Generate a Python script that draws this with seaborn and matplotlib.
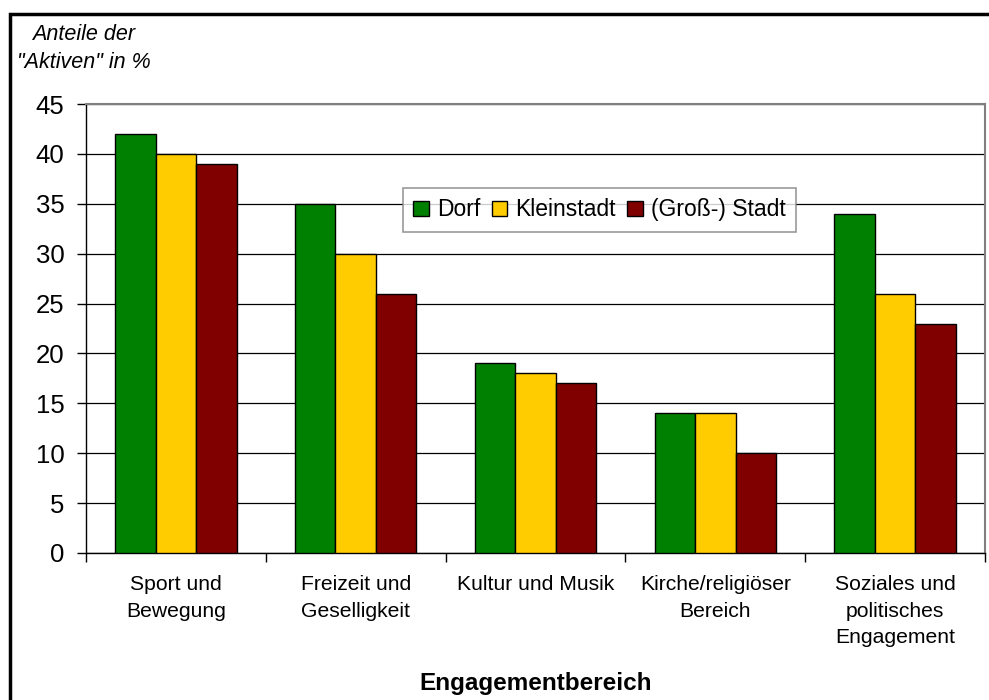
import seaborn as sns
import matplotlib.pyplot as plt
import pandas as pd
from matplotlib.patches import Rectangle

# data
categories = ["Sport und\nBewegung", "Freizeit und\nGeselligkeit", "Kultur und Musik",
              "Kirche/religiöser\nBereich", "Soziales und\npolitisches\nEngagement"]
series = ["Dorf", "Kleinstadt", "(Groß-) Stadt"]
dorf = [42, 35, 19, 14, 34]
kleinstadt = [40, 30, 18, 14, 26]
stadt = [39, 26, 17, 10, 23]
colors = ["#008000", "#FFCC00", "#800000"]

df = pd.DataFrame({
    "Bereich": categories * 3,
    "Ort": [s for s in series for _ in categories],
    "Anteil": dorf + kleinstadt + stadt,
})

sns.set_style("white")
plt.rcParams["font.family"] = ["Liberation Sans", "DejaVu Sans"]
plt.rcParams.update({"text.color": "black", "axes.labelcolor": "black",
                     "xtick.color": "black", "ytick.color": "black"})

fig = plt.figure(figsize=(9.89, 7), dpi=100)
ax = fig.add_axes([86 / 989, 147 / 700, 899 / 989, 449 / 700])

sns.barplot(data=df, x="Bereich", y="Anteil", hue="Ort", order=categories,
            hue_order=series, palette=colors, width=0.675, gap=0,
            edgecolor="black", linewidth=1, saturation=1, ax=ax, zorder=3)

ax.set_ylim(0, 45)
ax.set_xlim(-0.5, 4.5)
ax.set_yticks(range(0, 46, 5))
ax.yaxis.grid(True, color="black", linewidth=0.9, zorder=0)
ax.set_axisbelow(True)

ax.tick_params(axis="y", labelsize=18.5, length=6.5, width=1, direction="out",
               pad=9, left=True, color="black", labelcolor="black")
ax.tick_params(axis="x", which="major", labelsize=15.2, length=0, pad=16,
               labelcolor="black")
for lbl in ax.get_xticklabels():
    lbl.set_linespacing(1.5)
ax.set_xticks([i - 0.5 for i in range(6)], minor=True)
ax.tick_params(axis="x", which="minor", length=6.5, width=1, direction="out",
               bottom=True, color="black")

for side in ["left", "bottom"]:
    ax.spines[side].set_color("black")
    ax.spines[side].set_linewidth(1)
for side in ["top", "right"]:
    ax.spines[side].set_visible(True)
    ax.spines[side].set_color("#808080")
    ax.spines[side].set_linewidth(1.5)

ax.set_ylabel("")
ax.set_xlabel("Engagementbereich", fontsize=17.5, fontweight="bold", color="black")
ax.xaxis.set_label_coords(0.5, -0.266)

leg = ax.legend(loc="center", bbox_to_anchor=(0.571, 0.764), ncol=3,
                fontsize=16.5, frameon=True, fancybox=False, edgecolor="#808080",
                handlelength=0.68, handleheight=0.68, handletextpad=0.35,
                columnspacing=0.5, borderpad=0.45, borderaxespad=0)
leg.get_frame().set_linewidth(1.2)
leg.set_zorder(5)
for t in leg.get_texts():
    t.set_color("black")

fig.text(84 / 989, 1 - 24 / 700, "Anteile der\n\"Aktiven\" in %", ha="center",
         va="top", fontsize=15.5, style="italic", multialignment="center",
         linespacing=1.45, color="black")

# outer chart border
fig.patches.append(Rectangle((10 / 989, -0.05), 1.1, 0.05 + 686 / 700,
                             transform=fig.transFigure, fill=False,
                             edgecolor="black", linewidth=2.5))

fig.savefig("out.png", dpi=100)
